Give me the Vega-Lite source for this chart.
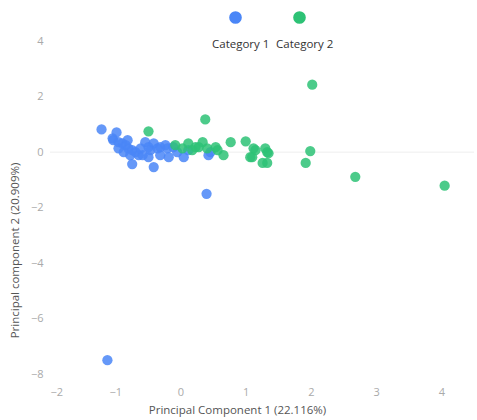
{
  "$schema": "https://vega.github.io/schema/vega-lite/v6.json",
  "autosize": {"type": "none"},
  "width": 424,
  "height": 356,
  "padding": {"left": 50, "top": 27, "right": 3, "bottom": 37},
  "config": {
    "font": "Open Sans",
    "view": {"stroke": null},
    "axis": {"domain": false, "ticks": false, "grid": false, "labelColor": "#aaaaaa", "labelFontSize": 11, "titleColor": "#555555", "titleFontSize": 11.5, "titleFontWeight": "normal"}
  },
  "data": {"values": [
    {"pc1": -1.21, "pc2": 0.82, "category": "Category 1"},
    {"pc1": -0.98, "pc2": 0.71, "category": "Category 1"},
    {"pc1": -1.04, "pc2": 0.5, "category": "Category 1"},
    {"pc1": -1.03, "pc2": 0.43, "category": "Category 1"},
    {"pc1": -0.95, "pc2": 0.36, "category": "Category 1"},
    {"pc1": -0.89, "pc2": 0.32, "category": "Category 1"},
    {"pc1": -0.84, "pc2": 0.25, "category": "Category 1"},
    {"pc1": -0.8, "pc2": 0.14, "category": "Category 1"},
    {"pc1": -0.74, "pc2": 0.07, "category": "Category 1"},
    {"pc1": -0.69, "pc2": 0.0, "category": "Category 1"},
    {"pc1": -0.64, "pc2": -0.11, "category": "Category 1"},
    {"pc1": -0.54, "pc2": 0.36, "category": "Category 1"},
    {"pc1": -0.49, "pc2": 0.18, "category": "Category 1"},
    {"pc1": -0.46, "pc2": 0.07, "category": "Category 1"},
    {"pc1": -0.41, "pc2": 0.32, "category": "Category 1"},
    {"pc1": -0.35, "pc2": 0.14, "category": "Category 1"},
    {"pc1": -0.31, "pc2": 0.18, "category": "Category 1"},
    {"pc1": -0.23, "pc2": 0.25, "category": "Category 1"},
    {"pc1": -0.2, "pc2": 0.14, "category": "Category 1"},
    {"pc1": -0.18, "pc2": -0.18, "category": "Category 1"},
    {"pc1": -0.49, "pc2": -0.18, "category": "Category 1"},
    {"pc1": -0.74, "pc2": -0.43, "category": "Category 1"},
    {"pc1": -0.41, "pc2": -0.54, "category": "Category 1"},
    {"pc1": -0.87, "pc2": 0.0, "category": "Category 1"},
    {"pc1": -0.95, "pc2": 0.14, "category": "Category 1"},
    {"pc1": -0.58, "pc2": -0.11, "category": "Category 1"},
    {"pc1": -0.11, "pc2": 0.18, "category": "Category 1"},
    {"pc1": -0.05, "pc2": 0.0, "category": "Category 1"},
    {"pc1": 0.05, "pc2": -0.18, "category": "Category 1"},
    {"pc1": 0.12, "pc2": 0.07, "category": "Category 1"},
    {"pc1": 0.46, "pc2": 0.0, "category": "Category 1"},
    {"pc1": 0.43, "pc2": -0.11, "category": "Category 1"},
    {"pc1": 0.4, "pc2": -1.5, "category": "Category 1"},
    {"pc1": -1.12, "pc2": -7.5, "category": "Category 1"},
    {"pc1": -0.81, "pc2": 0.43, "category": "Category 1"},
    {"pc1": -0.61, "pc2": 0.14, "category": "Category 1"},
    {"pc1": -0.77, "pc2": -0.11, "category": "Category 1"},
    {"pc1": -0.31, "pc2": -0.11, "category": "Category 1"},
    {"pc1": -0.49, "pc2": 0.75, "category": "Category 2"},
    {"pc1": -0.08, "pc2": 0.25, "category": "Category 2"},
    {"pc1": 0.03, "pc2": 0.14, "category": "Category 2"},
    {"pc1": 0.12, "pc2": 0.32, "category": "Category 2"},
    {"pc1": 0.23, "pc2": 0.18, "category": "Category 2"},
    {"pc1": 0.28, "pc2": 0.18, "category": "Category 2"},
    {"pc1": 0.34, "pc2": 0.36, "category": "Category 2"},
    {"pc1": 0.41, "pc2": 0.14, "category": "Category 2"},
    {"pc1": 0.54, "pc2": 0.18, "category": "Category 2"},
    {"pc1": 0.57, "pc2": 0.07, "category": "Category 2"},
    {"pc1": 0.66, "pc2": -0.11, "category": "Category 2"},
    {"pc1": 0.77, "pc2": 0.36, "category": "Category 2"},
    {"pc1": 1.0, "pc2": 0.39, "category": "Category 2"},
    {"pc1": 1.07, "pc2": -0.18, "category": "Category 2"},
    {"pc1": 1.12, "pc2": 0.14, "category": "Category 2"},
    {"pc1": 1.15, "pc2": 0.07, "category": "Category 2"},
    {"pc1": 1.1, "pc2": -0.18, "category": "Category 2"},
    {"pc1": 1.3, "pc2": 0.14, "category": "Category 2"},
    {"pc1": 1.33, "pc2": 0.0, "category": "Category 2"},
    {"pc1": 1.26, "pc2": -0.39, "category": "Category 2"},
    {"pc1": 1.33, "pc2": -0.39, "category": "Category 2"},
    {"pc1": 1.35, "pc2": -0.04, "category": "Category 2"},
    {"pc1": 1.99, "pc2": 0.04, "category": "Category 2"},
    {"pc1": 1.92, "pc2": -0.39, "category": "Category 2"},
    {"pc1": 0.38, "pc2": 1.18, "category": "Category 2"},
    {"pc1": 2.02, "pc2": 2.43, "category": "Category 2"},
    {"pc1": 4.05, "pc2": -1.21, "category": "Category 2"},
    {"pc1": 2.68, "pc2": -0.89, "category": "Category 2"},
    {"pc1": 0.18, "pc2": 0.07, "category": "Category 2"}
  ]},
  "layer": [
    {
      "mark": {"type": "rule", "color": "#eeeeee", "strokeWidth": 1},
      "data": {"values": [{"zero": 0}]},
      "encoding": {"y": {"field": "zero", "type": "quantitative"}}
    },
    {
      "mark": {"type": "circle", "size": 105, "opacity": 0.85},
      "encoding": {
        "x": {"field": "pc1", "type": "quantitative", "scale": {"domain": [-2, 4.5], "nice": false, "zero": false},
              "axis": {"values": [-2, -1, 0, 1, 2, 3, 4], "title": "Principal Component 1 (22.116%)", "labelPadding": 3, "titleX": 187, "titleY": 21}},
        "y": {"field": "pc2", "type": "quantitative", "scale": {"domain": [-8.32, 4.51], "nice": false, "zero": false},
              "axis": {"values": [4, 2, 0, -2, -4, -6, -8], "title": "Principal component 2 (20.909%)", "labelPadding": 7, "titleX": -30, "titleY": 223}},
        "color": {"field": "category", "type": "nominal",
                  "scale": {"domain": ["Category 1", "Category 2"], "range": ["#4A86F7", "#2DC275"]},
                  "legend": {"title": null, "orient": "none", "direction": "horizontal", "legendX": 178, "legendY": -17,
                             "symbolSize": 160, "symbolOpacity": 1, "labelAlign": "left", "labelOffset": -31,
                             "labelFontSize": 11.5, "labelColor": "#333333", "columnPadding": 6,
                             "encode": {"labels": {"update": {"dy": {"value": 27}}}}}}
      }
    }
  ]
}
